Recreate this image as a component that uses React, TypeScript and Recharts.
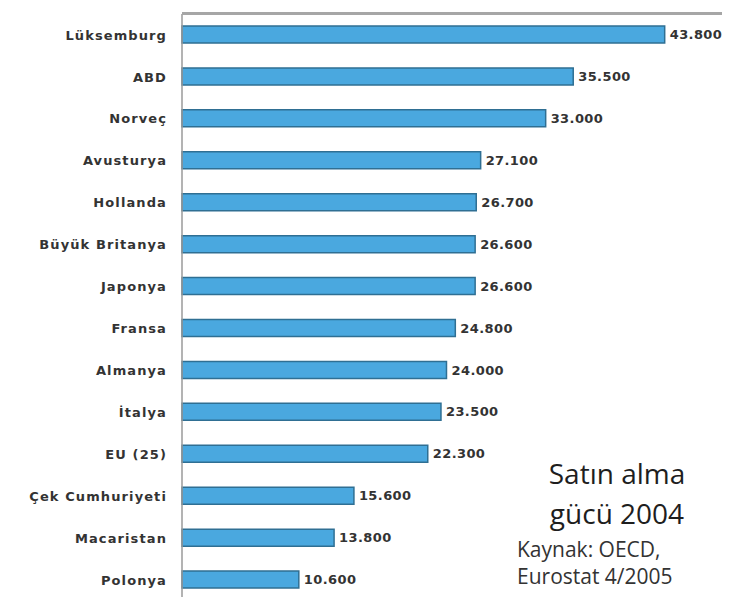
import { Bar, BarChart, LabelList, XAxis, YAxis } from "recharts";

const countries = [
  "Lüksemburg",
  "ABD",
  "Norveç",
  "Avusturya",
  "Hollanda",
  "Büyük Britanya",
  "Japonya",
  "Fransa",
  "Almanya",
  "İtalya",
  "EU (25)",
  "Çek Cumhuriyeti",
  "Macaristan",
  "Polonya",
];

const purchasingPower = [
  43800, 35500, 33000, 27100, 26700, 26600, 26600, 24800, 24000, 23500, 22300,
  15600, 13800, 10600,
];

const titleLines = ["Satın alma", "gücü 2004"];
const sourceLines = ["Kaynak: OECD,", "Eurostat 4/2005"];

const data = countries.map((name, i) => ({ name, value: purchasingPower[i] }));

// 43800 -> "43.800"
const fmt = (v: unknown) =>
  String(v).replace(/\B(?=(\d{3})+(?!\d))/g, ".");

const labelFont = "'DejaVu Sans', Verdana, sans-serif";

export default function App() {
  return (
    <div
      style={{
        position: "absolute",
        left: 0,
        top: 0,
        width: 729,
        height: 597,
        overflow: "hidden",
        background: "#fff",
      }}
    >
      <BarChart
        width={729}
        height={605}
        data={data}
        layout="vertical"
        margin={{ top: 14, right: 7, bottom: 4, left: 0 }}
        barCategoryGap={0}
      >
        <XAxis type="number" domain={[0, 49000]} hide />
        <YAxis
          type="category"
          dataKey="name"
          width={182}
          axisLine={{ stroke: "#9a9a9a", strokeWidth: 1.5 }}
          tickLine={false}
          tickMargin={9}
          interval={0}
          tick={{
            fontSize: 13,
            fontWeight: "bold",
            fill: "#333",
            fontFamily: labelFont,
            letterSpacing: 1.1,
          }}
        />
        <Bar
          dataKey="value"
          fill="#4aa8df"
          stroke="#2f6f93"
          strokeWidth={1.5}
          barSize={17}
          isAnimationActive={false}
        >
          <LabelList
            dataKey="value"
            position="right"
            offset={5}
            formatter={fmt}
            style={{
              fontSize: 13,
              fontWeight: "bold",
              fill: "#333",
              fontFamily: labelFont,
              letterSpacing: 0.4,
            }}
          />
        </Bar>
      </BarChart>
      {/* grey rule along the top of the plot */}
      <div
        style={{
          position: "absolute",
          left: 182,
          top: 12,
          width: 540,
          height: 3,
          background: "#a6a6a6",
        }}
      />
      <div
        style={{
          position: "absolute",
          left: 530,
          top: 453,
          width: 174,
          textAlign: "center",
          fontFamily: "'Open Sans', sans-serif",
          fontSize: 28,
          lineHeight: "40px",
          color: "#1e1e1e",
        }}
      >
        {titleLines.map((t) => (
          <div key={t}>{t}</div>
        ))}
      </div>
      <div
        style={{
          position: "absolute",
          left: 517,
          top: 536,
          fontFamily: "'Open Sans', sans-serif",
          fontSize: 21,
          lineHeight: "27px",
          color: "#333",
        }}
      >
        {sourceLines.map((t) => (
          <div key={t}>{t}</div>
        ))}
      </div>
    </div>
  );
}
